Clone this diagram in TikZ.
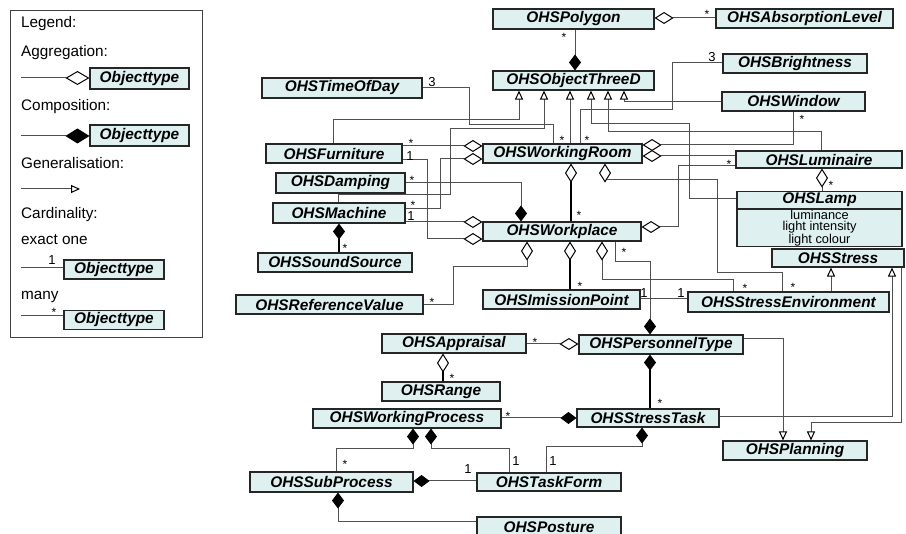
\documentclass[tikz,border=0pt]{standalone}
\usepackage{fontspec}
\setmainfont{Liberation Sans}
\usetikzlibrary{arrows.meta}
\usetikzlibrary{positioning}
\definecolor{clsfill}{RGB}{222,240,240}
\definecolor{linegray}{RGB}{80,80,80}
\tikzset{
  cls/.style={draw=black!85, line width=1.1pt, fill=clsfill, inner sep=0pt, minimum height=19pt,
    font=\fontsize{15.4}{17}\selectfont\bfseries\itshape},
  conn/.style={draw=linegray, line width=1pt},
  heavy/.style={draw=black, line width=2.2pt},
  aggr/.style={conn, {Diamond[length=19pt,width=12pt,color=black,fill=white,line width=1pt]}-},
  compo/.style={conn, {Diamond[length=16pt,width=12pt,color=black,fill=black]}-},
  gener/.style={conn, -{Triangle[length=9pt,width=8pt,color=black,fill=white,line width=1pt]}},
  legaggr/.style={conn, {Diamond[length=24pt,width=14pt,color=black,fill=white,line width=1pt]}-},
  legcompo/.style={conn, {Diamond[length=24pt,width=15pt,color=black,fill=black]}-},
  card/.style={inner sep=0pt, font=\fontsize{13}{13}\selectfont},
  star/.style={inner sep=0pt, font=\fontsize{12}{12}\selectfont, yshift=-2pt},
  legtext/.style={anchor=west, inner sep=0pt, font=\fontsize{15.3}{17}\selectfont}
}
\begin{document}
\begin{tikzpicture}[x=1pt, y=-1pt]
  \useasboundingbox (0,0) rectangle (906,534);

  % legend
  \draw[black!75, line width=1pt] (10,11) rectangle (202,338);
  \node[legtext] (legtitle) at (21,24) {Legend:};
  \node[legtext] (legagg) at (21,53) {Aggregation:};
  \node[cls, minimum width=99pt, minimum height=21pt] (objagg) at (139.5,78.5) {Objecttype};
  \coordinate (aggfree) at (21,78);
  \draw[legaggr] (objagg.west |- aggfree) -- (aggfree);
  \node[legtext] (legcomp) at (21,107) {Composition:};
  \node[cls, minimum width=99pt, minimum height=21pt] (objcomp) at (139.5,135.5) {Objecttype};
  \coordinate (compfree) at (21,136);
  \draw[legcompo] (objcomp.west |- compfree) -- (compfree);
  \node[legtext] (leggen) at (21,163) {Generalisation:};
  \coordinate (genfree) at (21,189);
  \coordinate (gentip) at (80,189);
  \draw[gener] (genfree) -- (gentip);
  \node[legtext] (legcard) at (21,215) {Cardinality:};
  \node[legtext] (legone) at (21,240) {exact one};
  \node[cls, minimum width=100pt] (objone) at (114,269.5) {Objecttype};
  \coordinate (onefree) at (21,268);
  \draw[conn] (onefree) -- (objone.west |- onefree);
  \node[card] (cardone) at (52,260) {1};
  \node[legtext] (legmany) at (21,297) {many};
  \node[cls, minimum width=100pt] (objmany) at (114,320) {Objecttype};
  \coordinate (manyfree) at (21,316);
  \draw[conn] (manyfree) -- (objmany.west |- manyfree);
  \node[star] (cardmany) at (54,310) {*};

  % classes
  \node[cls, minimum width=161pt, minimum height=20pt] (polygon) at (573.5,19) {OHSPolygon};
  \node[cls, minimum width=177pt] (absorb) at (804.5,18.5) {OHSAbsorptionLevel};
  \node[cls, minimum width=161pt] (o3d) at (573.5,80.5) {OHSObjectThreeD};
  \node[cls, minimum width=160pt, minimum height=20pt] (time) at (342,88) {OHSTimeOfDay};
  \node[cls, minimum width=144pt] (bright) at (795,63.5) {OHSBrightness};
  \node[cls, minimum width=143pt] (window) at (793.5,101.5) {OHSWindow};
  \node[cls, minimum width=136pt] (furn) at (334,153.5) {OHSFurniture};
  \node[cls, minimum width=159pt] (wroom) at (562.5,153.5) {OHSWorkingRoom};
  \node[cls, minimum width=166pt, minimum height=17pt] (lumin) at (819,159.5) {OHSLuminaire};
  \node[cls, minimum width=129pt, minimum height=20pt] (damp) at (340.5,183) {OHSDamping};
  \node[cls, minimum width=132pt, minimum height=20pt] (mach) at (339,213) {OHSMachine};
  \node[cls, minimum width=165pt, minimum height=17pt] (lamp) at (819.5,200) {OHSLamp};
  \node[cls, below=0pt of lamp, minimum width=165pt, minimum height=37pt, align=center,
    font=\fontsize{12.8}{11.5}\selectfont] (lampattr) {luminance\\light intensity\\light colour};
  \node[cls, minimum width=158pt] (wplace) at (562,231.5) {OHSWorkplace};
  \node[cls, minimum width=154pt] (sound) at (335,262.5) {OHSSoundSource};
  \node[cls, minimum width=132pt, minimum height=18pt] (stress) at (838,258) {OHSStress};
  \node[cls, minimum width=187pt] (refval) at (329.5,304.5) {OHSReferenceValue};
  \node[cls, minimum width=157pt] (imis) at (561.5,299.5) {OHSImissionPoint};
  \node[cls, minimum width=201pt, minimum height=20pt] (stenv) at (788.5,302) {OHSStressEnvironment};
  \node[cls, minimum width=144pt] (apprais) at (454,343.5) {OHSAppraisal};
  \node[cls, minimum width=164pt] (person) at (661,344.5) {OHSPersonnelType};
  \node[cls, minimum width=118pt] (range) at (441,391.5) {OHSRange};
  \node[cls, minimum width=188pt] (wproc) at (407,418.5) {OHSWorkingProcess};
  \node[cls, minimum width=142pt, minimum height=18pt] (stask) at (648,418) {OHSStressTask};
  \node[cls, minimum width=144pt] (plan) at (795,450.5) {OHSPlanning};
  \node[cls, minimum width=163pt, minimum height=20pt] (subp) at (331.5,482) {OHSSubProcess};
  \node[cls, minimum width=144pt, minimum height=18pt] (tform) at (549,482) {OHSTaskForm};
  \node[cls, minimum width=144pt, minimum height=20pt] (posture) at (549,527) {OHSPosture};

  % polygon
  \draw[aggr] (polygon.east |- 0,18) -- (absorb.west |- 0,18);
  \node[star] (mAbsorb) at (707,12) {*};
  \draw[compo] (575,0 |- o3d.north) -- (575,0 |- polygon.south);
  \node[star] (mPolygon) at (564,35) {*};

  % generalisations to OHSObjectThreeD
  \draw[gener] (333,0 |- furn.north) -- (333,120) -- (519,120) -- (519,0 |- o3d.south);
  \draw[gener] (338,0 |- mach.north) -- (338,195) -- (450,195) -- (450,129) -- (544,129) -- (544,0 |- o3d.south);
  \draw[gener] (570,0 |- wroom.north) -- (570,0 |- o3d.south);
  \draw[gener] (lamp.west |- 0,199) -- (689,199) -- (689,124) -- (591,124) -- (591,0 |- o3d.south);
  \draw[gener] (821,0 |- lumin.north) -- (821,132) -- (608,132) -- (608,0 |- o3d.south);
  \draw[gener] (window.west |- 0,102) -- (624,102) -- (624,0 |- o3d.south);

  % time of day and brightness
  \draw[conn] (time.east |- 0,88) -- (469,88) -- (469,125) -- (553,125) -- (553,0 |- wroom.north);
  \node[card] (nTime) at (432,82) {3};
  \node[star] (mTime) at (562,138) {*};
  \draw[conn] (bright.west |- 0,63) -- (672,63) -- (672,110) -- (580,110) -- (580,0 |- wroom.north);
  \node[card] (nBright) at (712,57) {3};
  \node[star] (mBright) at (587,138) {*};

  % working room
  \draw[aggr] (wroom.west |- 0,146) -- (furn.east |- 0,146);
  \node[star] (mFurn) at (411,141) {*};
  \draw[aggr] (wroom.west |- 0,159) -- (440,159) -- (440,209) -- (mach.east |- 0,209);
  \node[star] (mMach) at (413,203) {*};
  \draw[aggr] (wroom.east |- 0,145) -- (793,145) -- (793,0 |- window.south);
  \node[star] (mWindow) at (802,117) {*};
  \draw[aggr] (wroom.east |- 0,156) -- (lumin.west |- 0,156);
  \draw[aggr, heavy] (571,0 |- wroom.south) -- (571,0 |- wplace.north);
  \node[star] (mWplace) at (579,213) {*};
  \draw[aggr] (605,0 |- wroom.south) -- (605,180) -- (717,180) -- (717,273) -- (782,273) -- (782,0 |- stenv.north);
  \node[star] (mStenvA) at (793,285) {*};

  % workplace
  \draw[aggr] (wplace.west |- 0,222) -- (mach.east |- 0,222);
  \node[card] (nMach) at (411,216) {1};
  \draw[aggr] (wplace.west |- 0,239) -- (427,239) -- (427,160) -- (furn.east |- 0,160);
  \node[card] (nFurn) at (410,156) {1};
  \draw[compo] (521,0 |- wplace.north) -- (521,183) -- (damp.east |- 0,183);
  \node[star] (mDamp) at (412,178) {*};
  \draw[aggr] (wplace.east |- 0,227) -- (678,227) -- (678,166) -- (lumin.west |- 0,166);
  \node[star] (mLumin) at (729,162) {*};
  \draw[aggr] (527,0 |- wplace.south) -- (527,267) -- (453,267) -- (453,305) -- (refval.east |- 0,305);
  \node[star] (mRefval) at (432,300) {*};
  \draw[aggr, heavy] (570,0 |- wplace.south) -- (570,0 |- imis.north);
  \node[star] (mImis) at (580,284) {*};
  \draw[aggr] (602,0 |- wplace.south) -- (602,280) -- (733,280) -- (733,0 |- stenv.north);
  \node[star] (mStenvB) at (745,286) {*};
  \draw[compo] (650,0 |- person.north) -- (650,262) -- (615,262) -- (615,0 |- wplace.south);
  \node[star] (mPerson) at (624,250) {*};

  % machine, luminaire
  \draw[compo, heavy] (339,0 |- mach.south) -- (339,0 |- sound.north);
  \node[star] (mSound) at (345,246) {*};
  \draw[aggr] (822,0 |- lumin.south) -- (822,0 |- lamp.north);
  \node[star] (mLamp) at (831,183) {*};

  % stress
  \draw[conn] (imis.east |- 0,299) -- (stenv.west |- 0,299);
  \node[card] (nImis) at (644,293) {1};
  \node[card] (nStenv) at (681,293) {1};
  \draw[gener] (831,0 |- stenv.north) -- (831,0 |- stress.south);
  \draw[gener] (stask.east |- 0,417) -- (892,417) -- (892,0 |- stress.south);
  \draw[gener] (901,0 |- stress.south) -- (901,423) -- (811,423) -- (811,0 |- plan.north);
  \draw[gener] (person.east |- 0,339) -- (783,339) -- (783,0 |- plan.north);

  % personnel and processes
  \draw[aggr] (person.west |- 0,344) -- (apprais.east |- 0,344);
  \node[star] (mApprais) at (535,340) {*};
  \draw[aggr, heavy] (443,0 |- apprais.south) -- (443,0 |- range.north);
  \node[star] (mRange) at (452,376) {*};
  \draw[compo, heavy] (650,0 |- person.south) -- (650,0 |- stask.north);
  \node[star] (mStask) at (660,401) {*};
  \draw[compo] (stask.west |- 0,418) -- (wproc.east |- 0,418);
  \node[star] (mWproc) at (508,414) {*};
  \draw[compo] (642,0 |- stask.south) -- (642,447) -- (546,447) -- (546,0 |- tform.north);
  \node[card] (nTformA) at (553,461) {1};
  \draw[compo] (413,0 |- wproc.south) -- (413,449) -- (336,449) -- (336,0 |- subp.north);
  \node[star] (mSubp) at (345,462) {*};
  \draw[compo] (431,0 |- wproc.south) -- (431,449) -- (509,449) -- (509,0 |- tform.north);
  \node[card] (nTformB) at (516,461) {1};
  \draw[compo] (subp.east |- 0,481) -- (tform.west |- 0,481);
  \node[card] (nTformC) at (468,469) {1};
  \draw[compo] (338,0 |- subp.south) -- (338,522) -- (posture.west |- 0,522);
\end{tikzpicture}
\end{document}
